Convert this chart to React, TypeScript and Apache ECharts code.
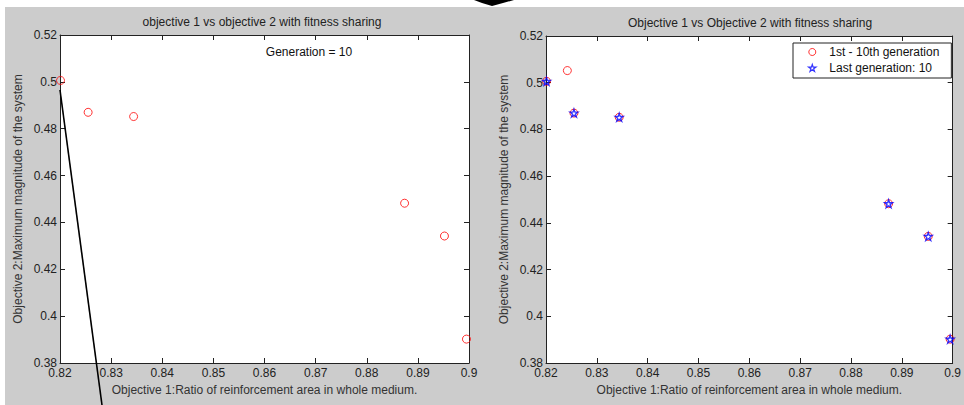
import React, { useEffect, useRef } from "react";
import * as echarts from "echarts";

// Objective values (last generation, shown in both panels)
const obj1Last = [0.8201, 0.8255, 0.8344, 0.8874, 0.8952, 0.8995];
const obj2Last = [0.5006, 0.487, 0.4852, 0.4482, 0.4342, 0.3902];
// Extra point seen among 1st - 10th generations (right panel)
const obj1Extra = [0.8242];
const obj2Extra = [0.5052];

const xTicks = { min: 0.82, max: 0.9, interval: 0.01 };
const yTicks = { min: 0.38, max: 0.52, interval: 0.02 };

const leftTitle = "objective 1 vs objective 2 with fitness sharing";
const rightTitle = "Objective 1 vs Objective 2 with fitness sharing";
const xName = "Objective 1:Ratio of reinforcement area in whole medium.";
const yName = "Objective 2:Maximum magnitude of the system";
const generationText = "Generation = 10";
const seriesAll = "1st - 10th generation";
const seriesLast = "Last generation: 10";

const FONT = "'Liberation Sans', Arial, sans-serif";
const STAR =
  "path://M50,0 L61.2,34.5 L97.6,34.5 L68.2,55.9 L79.4,90.5 L50,69.1 L20.6,90.5 L31.8,55.9 L2.4,34.5 L38.8,34.5 Z";

function zip(a: number[], b: number[]) {
  return a.map((v, i) => [v, b[i]]);
}

function makeX(gridIndex: number, top: boolean) {
  return {
    type: "value",
    gridIndex,
    position: top ? "top" : "bottom",
    min: xTicks.min,
    max: xTicks.max,
    interval: xTicks.interval,
    name: top ? "" : xName,
    nameLocation: "middle",
    nameGap: 21,
    nameTextStyle: { fontFamily: FONT, fontSize: 12, color: "#333" },
    axisLine: { show: true, onZero: false, lineStyle: { color: "#222", width: 1 } },
    axisTick: { show: true, inside: true, length: 5, lineStyle: { color: "#222" } },
    axisLabel: {
      show: !top,
      margin: 4,
      fontFamily: FONT,
      fontSize: 12,
      color: "#222",
    },
    splitLine: { show: false },
  };
}

function makeY(gridIndex: number, right: boolean) {
  return {
    type: "value",
    gridIndex,
    position: right ? "right" : "left",
    min: yTicks.min,
    max: yTicks.max,
    interval: yTicks.interval,
    name: right ? "" : yName,
    nameLocation: "middle",
    nameGap: 36,
    nameTextStyle: { fontFamily: FONT, fontSize: 12, color: "#333" },
    axisLine: { show: true, onZero: false, lineStyle: { color: "#222", width: 1 } },
    axisTick: { show: true, inside: true, length: 5, lineStyle: { color: "#222" } },
    axisLabel: {
      show: !right,
      margin: 3,
      fontFamily: FONT,
      fontSize: 12,
      color: "#222",
    },
    splitLine: { show: false },
  };
}

export default function App() {
  const ref = useRef<HTMLDivElement>(null);

  useEffect(() => {
    if (!ref.current) return;
    const chart = echarts.init(ref.current, null, { renderer: "svg" });
    const lastData = zip(obj1Last, obj2Last);
    const allData = zip(obj1Last, obj2Last).concat(zip(obj1Extra, obj2Extra));

    chart.setOption({
      animation: false,
      backgroundColor: "#cccccc",
      textStyle: { fontFamily: FONT },
      grid: [
        {
          left: 60,
          top: 35,
          width: 409,
          height: 328,
          show: true,
          backgroundColor: "#ffffff",
          borderWidth: 0,
        },
        {
          left: 546,
          top: 36,
          width: 411,
          height: 327,
          show: true,
          backgroundColor: "#ffffff",
          borderWidth: 0,
        },
      ],
      xAxis: [makeX(0, false), makeX(0, true), makeX(1, false), makeX(1, true)],
      yAxis: [makeY(0, false), makeY(0, true), makeY(1, false), makeY(1, true)],
      legend: {
        data: [
          {
            name: seriesAll,
            itemStyle: { color: "rgba(0,0,0,0)", borderColor: "#ff0000", borderWidth: 1 },
          },
          {
            name: seriesLast,
            itemStyle: { color: "rgba(0,0,0,0)", borderColor: "#0000ff", borderWidth: 1.2 },
          },
        ],
        orient: "vertical",
        left: 793,
        top: 43,
        padding: [3, 12, 4, 15],
        itemWidth: 24,
        itemHeight: 7,
        itemGap: 4,
        borderColor: "#222",
        borderWidth: 1,
        backgroundColor: "#ffffff",
        textStyle: { fontFamily: FONT, fontSize: 12, color: "#111", lineHeight: 12 },
      },
      series: [
        {
          name: "population",
          type: "scatter",
          xAxisIndex: 0,
          yAxisIndex: 0,
          data: lastData,
          symbol: "circle",
          symbolSize: 8,
          itemStyle: { color: "rgba(0,0,0,0)", borderColor: "#ff0000", borderWidth: 1 },
        },
        {
          name: seriesAll,
          type: "scatter",
          xAxisIndex: 2,
          yAxisIndex: 2,
          data: allData,
          symbol: "circle",
          symbolSize: 8,
          itemStyle: { color: "rgba(0,0,0,0)", borderColor: "#ff0000", borderWidth: 1 },
        },
        {
          name: seriesLast,
          type: "scatter",
          xAxisIndex: 2,
          yAxisIndex: 2,
          data: lastData,
          symbol: STAR,
          symbolSize: 8,
          itemStyle: { color: "rgba(0,0,0,0)", borderColor: "#0000ff", borderWidth: 1.3 },
        },
      ],
      graphic: [
        { type: "rect", shape: { x: 0, y: 0, width: 964, height: 7 }, style: { fill: "#ffffff" }, z: 1 },
        { type: "rect", shape: { x: 0, y: 0, width: 5, height: 405 }, style: { fill: "#ffffff" }, z: 1 },
        {
          type: "polygon",
          shape: { points: [[474, 0], [514, 0], [503, 3], [492, 6], [482, 3]] },
          style: { fill: "#000000" },
          z: 2,
        },
        {
          type: "text",
          x: 262,
          y: 22,
          style: { text: leftTitle, fontFamily: FONT, fontSize: 12, fill: "#222", textAlign: "center", textVerticalAlign: "middle" },
          z: 5,
        },
        {
          type: "text",
          x: 750,
          y: 23,
          style: { text: rightTitle, fontFamily: FONT, fontSize: 12, fill: "#222", textAlign: "center", textVerticalAlign: "middle" },
          z: 5,
        },
        {
          type: "text",
          x: 309,
          y: 52,
          style: { text: generationText, fontFamily: FONT, fontSize: 12, fill: "#111", textAlign: "center", textVerticalAlign: "middle" },
          z: 5,
        },
        {
          type: "line",
          shape: { x1: 60, y1: 90, x2: 102, y2: 405 },
          style: { stroke: "#000000", lineWidth: 1.6 },
          z: 100,
        },
      ],
    });

    return () => chart.dispose();
  }, []);

  return (
    <div
      ref={ref}
      style={{ position: "fixed", left: 0, top: 0, width: 964, height: 405 }}
    />
  );
}
